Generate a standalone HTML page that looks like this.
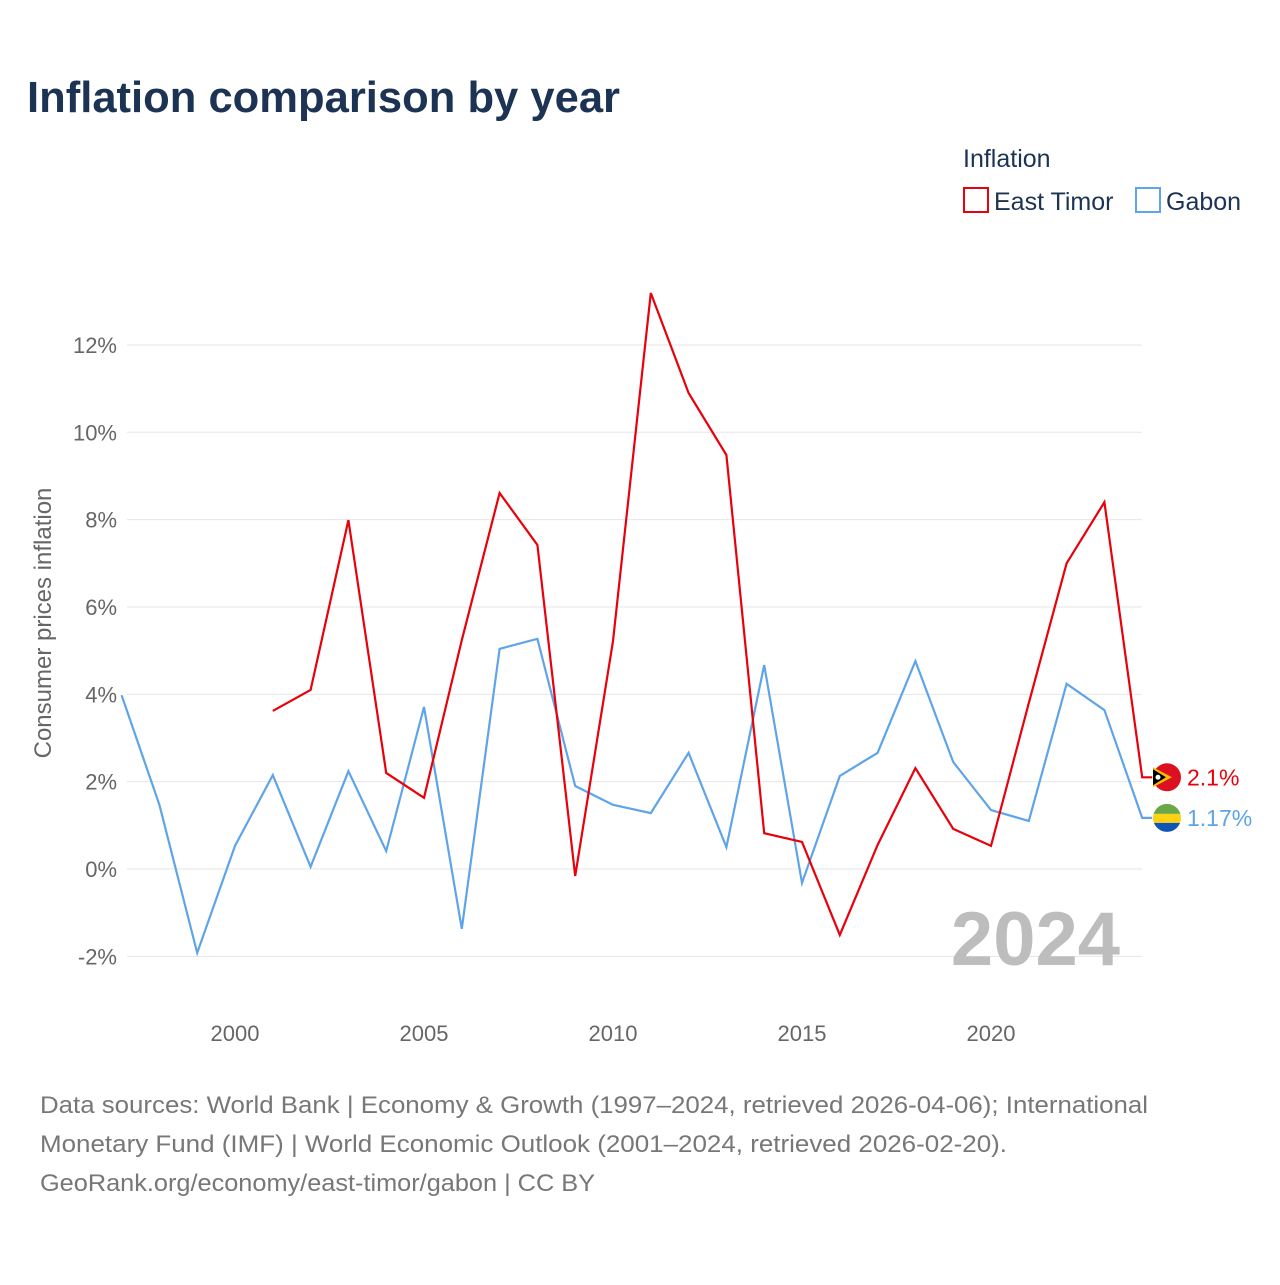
<!DOCTYPE html>
<html><head><meta charset="utf-8"><style>
body{margin:0;background:#fff;font-family:"Liberation Sans",sans-serif}
svg text{font-family:"Liberation Sans",sans-serif}
</style></head><body>
<svg id="chart" width="1280" height="1280" xmlns="http://www.w3.org/2000/svg">
<rect width="1280" height="1280" fill="#fff"/>
<text x="27" y="112" font-size="44" font-weight="bold" fill="#1c3354" textLength="593" lengthAdjust="spacingAndGlyphs">Inflation comparison by year</text>
<text x="963" y="167" font-size="25" fill="#1c3354">Inflation</text>
<g><rect x="964" y="188" width="24" height="24" fill="none" stroke="#e8000b" stroke-width="2"/><text x="994" y="210" font-size="25" fill="#1c3354">East Timor</text></g>
<g><rect x="1136" y="188" width="24" height="24" fill="none" stroke="#5fa4e8" stroke-width="2"/><text x="1166" y="210" font-size="25" fill="#1c3354">Gabon</text></g>
<text transform="translate(51,623) rotate(-90)" text-anchor="middle" font-size="24" fill="#666">Consumer prices inflation</text>
<g id="grid"></g><g id="xt"></g><g id="lines"></g>
<text x="1120" y="965" text-anchor="end" font-size="76" font-weight="bold" fill="#bdbdbd">2024</text>
<text font-size="24" fill="#777"><tspan x="40" y="1113" textLength="1108" lengthAdjust="spacingAndGlyphs">Data sources: World Bank | Economy &amp; Growth (1997–2024, retrieved 2026-04-06); International</tspan><tspan x="40" y="1152" textLength="967" lengthAdjust="spacingAndGlyphs">Monetary Fund (IMF) | World Economic Outlook (2001–2024, retrieved 2026-02-20).</tspan><tspan x="40" y="1191" textLength="555" lengthAdjust="spacingAndGlyphs">GeoRank.org/economy/east-timor/gabon | CC BY</tspan></text>
</svg>
<script>
const yTicks=[-2,0,2,4,6,8,10,12];
const xTicks=[2000,2005,2010,2015,2020];
const gabonYears=[1997,1998,1999,2000,2001,2002,2003,2004,2005,2006,2007,2008,2009,2010,2011,2012,2013,2014,2015,2016,2017,2018,2019,2020,2021,2022,2023,2024];
const gabonVals=[3.98,1.47,-1.92,0.53,2.15,0.05,2.24,0.41,3.71,-1.37,5.04,5.27,1.9,1.47,1.28,2.66,0.5,4.67,-0.32,2.13,2.66,4.76,2.45,1.35,1.1,4.24,3.64,1.17];
const timorYears=[2001,2002,2003,2004,2005,2006,2007,2008,2009,2010,2011,2012,2013,2014,2015,2016,2017,2018,2019,2020,2021,2022,2023,2024];
const timorVals=[3.62,4.1,7.99,2.2,1.63,5.24,8.61,7.42,-0.16,5.22,13.19,10.9,9.48,0.82,0.62,-1.51,0.55,2.31,0.92,0.53,3.8,7.0,8.4,2.1];
const NS="http://www.w3.org/2000/svg";
const X=y=>121.6+(y-1997)*37.8, Y=v=>869-v*43.67;
function mk(t,a,p){const e=document.createElementNS(NS,t);for(const k in a)e.setAttribute(k,a[k]);p.appendChild(e);return e;}
const g=document.getElementById('grid');
yTicks.forEach(v=>{
 const l=mk('line',{x1:127,x2:1142,y1:Y(v),y2:Y(v),stroke:'#e6e6e6','stroke-width':1},g);
 
 
 const t=mk('text',{x:117,y:Y(v)+8,'text-anchor':'end','font-size':22,fill:'#666'},g);t.textContent=v+'%';
 
 
});
const xt=document.getElementById('xt');
xTicks.forEach(v=>{const t=mk('text',{x:X(v),y:1041,'text-anchor':'middle','font-size':22,fill:'#666'},xt);t.textContent=v;
 
 });
const L=document.getElementById('lines');
function series(ys,vs,col,name,label,ly){
 let d=ys.map((y,i)=>(i?'L':'M')+X(y)+','+Y(vs[i])).join(' ');
 d+=' L'+(X(ys[ys.length-1])+10)+','+Y(vs[vs.length-1]);
 const p=mk('path',{d:d,fill:'none',stroke:col,'stroke-width':2.2},L);
 
 
 const t=mk('text',{x:1187,y:Y(vs[vs.length-1])+8+ly,'font-size':23,fill:col},L);t.textContent=label;
 
 
 return Y(vs[vs.length-1])+ly;
}
const gy=series(gabonYears,gabonVals,'#5fa4e8','gabon',gabonVals[gabonVals.length-1]+'%',0);
const ty=series(timorYears,timorVals,'#e8000b','east-timor',timorVals[timorVals.length-1]+'%',0);
const f1=mk('g',{},L);
mk('circle',{cx:1167,cy:ty,r:14,fill:'#dc1020'},f1);
mk('path',{d:`M1153,${ty-10} L1172,${ty} L1153,${ty+10}Z`,fill:'#f8c000'},f1);
mk('path',{d:`M1153,${ty-8} L1166,${ty} L1153,${ty+8}Z`,fill:'#000'},f1);
mk('circle',{cx:1158,cy:ty,r:2.5,fill:'#fff'},f1);
const f2=mk('g',{},L);
mk('clipPath',{id:'cg'},f2);mk('circle',{cx:1167,cy:gy,r:14},document.getElementById('cg'));
mk('rect',{x:1153,y:gy-14,width:28,height:10,fill:'#6aa845','clip-path':'url(#cg)'},f2);
mk('rect',{x:1153,y:gy-4,width:28,height:9,fill:'#fcd116','clip-path':'url(#cg)'},f2);
mk('rect',{x:1153,y:gy+5,width:28,height:10,fill:'#0f55b8','clip-path':'url(#cg)'},f2);
</script>
</body></html>
